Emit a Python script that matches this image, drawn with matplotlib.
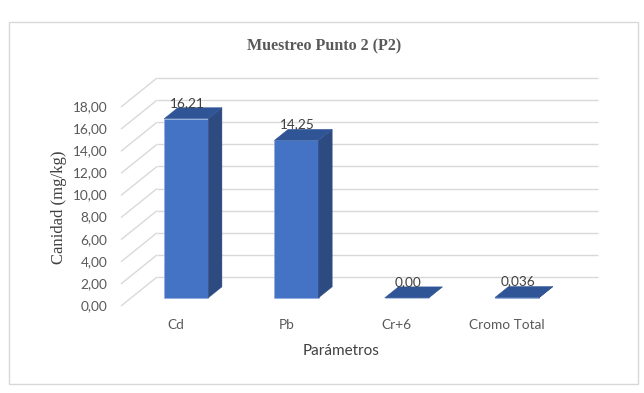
import matplotlib
matplotlib.use("Agg")
import matplotlib.pyplot as plt
from matplotlib.patches import Polygon, Rectangle

# ---- data ----
categories = ["Cd", "Pb", "Cr+6", "Cromo Total"]
values = [16.21, 14.25, 0.00, 0.036]
value_labels = ["16,21", "14,25", "0,00", "0,036"]
y_ticks = [0, 2, 4, 6, 8, 10, 12, 14, 16, 18]
y_tick_labels = ["0,00", "2,00", "4,00", "6,00", "8,00", "10,00", "12,00", "14,00", "16,00", "18,00"]
title = "Muestreo Punto 2 (P2)"
x_title = "Parámetros"
y_title = "Canidad (mg/kg)"

# ---- style ----
W, H = 644, 393
FRONT = "#4472C4"
SIDE = "#2D4B80"
TOP = "#2F5597"
GRID = "#D9D9D9"
TXT = "#595959"
LBL = "#404040"
SANS = ["Lato", "DejaVu Sans"]
SERIF = ["Liberation Serif", "DejaVu Serif"]

fig = plt.figure(figsize=(W / 100, H / 100), dpi=100)
fig.patch.set_facecolor("white")

# outer frame
fig.patches.append(Rectangle((9 / W, 1 - 384 / H), (638 - 9) / W, (384 - 22) / H,
                             transform=fig.transFigure, fill=False,
                             edgecolor="#D9D9D9", linewidth=1.0))

# axes covering front-left-bottom to back-right-top
left_px, right_px, top_px, bot_px = 121, 598, 78, 306
ax = fig.add_axes([left_px / W, 1 - bot_px / H, (right_px - left_px) / W, (bot_px - top_px) / H])
ax.set_axis_off()

n = len(categories)
unit = (right_px - left_px - 36) / n
Dx = 36 / unit
ymax = max(y_ticks)
s = (bot_px - top_px - 29) / ymax
Dy = 29 / s
ax.set_xlim(0, n + Dx)
ax.set_ylim(0, ymax + Dy)

# gridlines: side wall diagonals and back wall horizontals
for v in y_ticks:
    ax.plot([0, Dx], [v, v + Dy], color=GRID, lw=1.0, solid_capstyle="butt", clip_on=False)
    ax.plot([Dx, n + Dx], [v + Dy, v + Dy], color=GRID, lw=1.0, solid_capstyle="butt", clip_on=False)

# tick labels (front)
for v, t in zip(y_ticks, y_tick_labels):
    ax.text(-0.125, v, t, ha="right", va="center", fontsize=9.8, color=TXT, family=SANS)

# bars
f0, f1 = 0.28, 0.66
w = 0.40
ddx, ddy = (f1 - f0) * Dx, (f1 - f0) * Dy
bx0 = f0 * Dx
by0 = f0 * Dy
centers = [i + 0.5 + bx0 for i in range(n)]
ax.bar(centers, values, width=w, bottom=by0, color=FRONT, edgecolor="#8FAADC",
       linewidth=0.4, zorder=3, clip_on=False)
for c, v, lab in zip(centers, values, value_labels):
    x0, x1 = c - w / 2, c + w / 2
    side = Polygon([(x1, by0), (x1 + ddx, by0 + ddy), (x1 + ddx, by0 + ddy + v), (x1, by0 + v)],
                   closed=True, facecolor=SIDE, edgecolor=SIDE, lw=0.3, zorder=3, clip_on=False)
    top = Polygon([(x0, by0 + v), (x1, by0 + v), (x1 + ddx, by0 + v + ddy), (x0 + ddx, by0 + v + ddy)],
                  closed=True, facecolor=TOP, edgecolor=TOP, lw=0.3, zorder=4, clip_on=False)
    ax.add_patch(side)
    ax.add_patch(top)
    ax.text(c + 0.01, by0 + v + ddy + 0.45, lab, ha="center", va="center",
            fontsize=9.8, color=LBL, family=SANS, zorder=5)

# category labels
for i, cat in enumerate(categories):
    ax.text(i + 0.5, -1.72, cat, ha="center", va="center", fontsize=9.8, color=TXT, family=SANS)

# titles
fig.text(324 / W, 1 - 46 / H, title, ha="center", va="center", fontsize=11.5,
         fontweight="bold", color=TXT, family=SERIF)
fig.text(341 / W, 1 - 351 / H, x_title, ha="center", va="center", fontsize=11,
         color="#404040", family=SANS)
fig.text(59 / W, 1 - 207 / H, y_title, ha="center", va="center", fontsize=12,
         rotation=90, color="#404040", family=SERIF)

fig.savefig("out.png", dpi=100, facecolor="white")
